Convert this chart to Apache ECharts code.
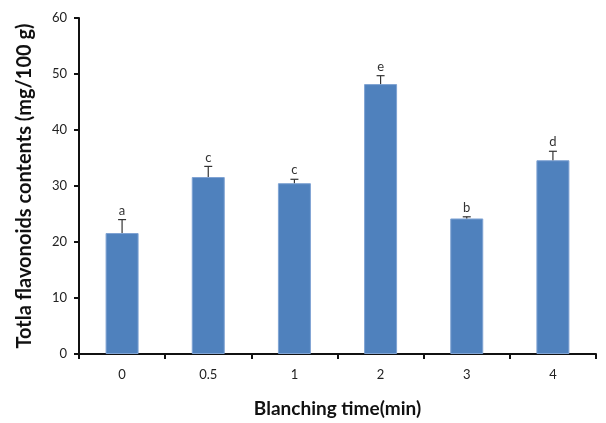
<!DOCTYPE html>
<html><head><meta charset="utf-8">
<script src="https://cdn.jsdelivr.net/npm/echarts@6/dist/echarts.min.js"></script>
<style>html,body{margin:0;padding:0;background:#fff}#c{width:606px;height:423px}</style>
</head><body><div id="c"></div>
<script>
var categories = ['0', '0.5', '1', '2', '3', '4'];
var values = [21.6, 31.6, 30.5, 48.2, 24.2, 34.6];
var errors = [2.4, 1.9, 0.7, 1.5, 0.3, 1.6];
var letters = ['a', 'c', 'c', 'e', 'b', 'd'];
var yTicks = [0, 10, 20, 30, 40, 50, 60];

var chart = echarts.init(document.getElementById('c'));
var errData = values.map(function (v, i) { return [i, v, errors[i], letters[i]]; });
chart.setOption({
  animation: false,
  grid: { left: 79, right: 10, top: 18, bottom: 69 },
  xAxis: {
    type: 'category', data: categories,
    name: 'Blanching time(min)', nameLocation: 'middle', nameGap: 45,
    nameTextStyle: { fontFamily: 'Lato', fontWeight: 'bold', fontSize: 19, color: '#111' },
    axisLine: { lineStyle: { color: '#111', width: 2 } },
    axisTick: { show: true, inside: false, length: 5, lineStyle: { color: '#111', width: 2 } },
    axisLabel: { fontFamily: 'Lato', fontSize: 13, color: '#222', margin: 14 }
  },
  yAxis: {
    type: 'value', min: yTicks[0], max: yTicks[yTicks.length - 1], interval: 10,
    name: 'Totla flavonoids contents (mg/100 g)', nameLocation: 'middle', nameGap: 44,
    nameTextStyle: { fontFamily: 'Lato', fontWeight: 'bold', fontSize: 20, color: '#111' },
    axisLine: { show: true, lineStyle: { color: '#111', width: 2 } },
    axisTick: { show: true, inside: false, length: 5, lineStyle: { color: '#111', width: 2 } },
    axisLabel: { fontFamily: 'Lato', fontSize: 13, color: '#222', margin: 12 },
    splitLine: { show: false }
  },
  series: [
    {
      type: 'bar', data: values, barWidth: 33,
      itemStyle: { color: '#4F81BD', borderColor: '#7FA3D3', borderWidth: 1 }
    },
    {
      type: 'custom', data: errData, z: 5,
      renderItem: function (params, api) {
        var i = api.value(0), v = api.value(1), e = api.value(2);
        var base = api.coord([i, v]);
        var top = api.coord([i, v + e]);
        var lbl = letters[params.dataIndex];
        return {
          type: 'group',
          children: [
            { type: 'line', shape: { x1: base[0], y1: base[1], x2: top[0], y2: top[1] }, style: { stroke: '#333', lineWidth: 1.2 } },
            { type: 'line', shape: { x1: top[0] - 4, y1: top[1], x2: top[0] + 4, y2: top[1] }, style: { stroke: '#333', lineWidth: 1.2 } },
            { type: 'text', style: { text: lbl, x: top[0], y: top[1] - 9, textAlign: 'center', textVerticalAlign: 'middle', fontFamily: 'Lato', fontSize: 13, fill: '#333' } }
          ]
        };
      }
    }
  ]
});
</script></body></html>
